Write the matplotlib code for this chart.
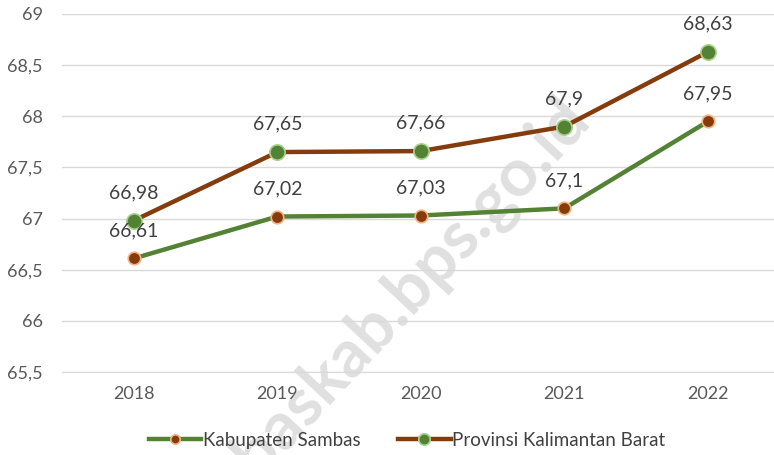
import matplotlib.pyplot as plt
import numpy as np

years = ['2018', '2019', '2020', '2021', '2022']
sambas = [66.61, 67.02, 67.03, 67.10, 67.95]
kalbar = [66.98, 67.65, 67.66, 67.90, 68.63]
sambas_labels = ['66,61', '67,02', '67,03', '67,1', '67,95']
kalbar_labels = ['66,98', '67,65', '67,66', '67,9', '68,63']
yticks = [65.5, 66, 66.5, 67, 67.5, 68, 68.5, 69]

plt.rcParams['font.family'] = ['Lato', 'DejaVu Sans']

green = '#548235'
brown = '#843c0c'
txt = '#404040'

fig = plt.figure(figsize=(7.74, 4.55), dpi=100)
ax = fig.add_axes([62 / 774, (455 - 372) / 455, 712 / 774, 358 / 455])
x = np.arange(len(years))

# watermark under everything else; anchored at the end of "id"
fig.text(592 / 774, 1 - 122 / 455, 'sambaskab.bps.go.id', rotation=47,
         rotation_mode='anchor', fontsize=48, fontweight='bold',
         color='#e0e0e0', ha='right', va='baseline', zorder=-1)

ax.plot(x, sambas, color=green, lw=3.2, marker='o', ms=9,
        mfc=brown, mec='#f4b183', mew=1.2, label='Kabupaten Sambas', zorder=3)
ax.plot(x, kalbar, color=brown, lw=3.2, marker='o', ms=11,
        mfc=green, mec='#a9d18e', mew=1.2, label='Provinsi Kalimantan Barat', zorder=3)

for xi, v, s in zip(x, sambas, sambas_labels):
    ax.annotate(s, (xi, v), xytext=(0, 20), textcoords='offset points',
                ha='center', va='center', fontsize=14, color=txt, zorder=4)
for xi, v, s in zip(x, kalbar, kalbar_labels):
    ax.annotate(s, (xi, v), xytext=(0, 20), textcoords='offset points',
                ha='center', va='center', fontsize=14, color=txt, zorder=4)

ax.set_xlim(-0.5, 4.46)
ax.set_ylim(65.5, 69)
ax.set_yticks(yticks)
ax.set_yticklabels([f'{t:g}'.replace('.', ',') for t in yticks])
ax.set_xticks(x)
ax.set_xticklabels(years)
ax.grid(axis='y', color='#d9d9d9', lw=1)
ax.set_axisbelow(True)
for sp in ['top', 'right', 'left']:
    ax.spines[sp].set_visible(False)
ax.spines['bottom'].set_color('#d9d9d9')
ax.tick_params(axis='both', length=0, labelsize=13, colors='#595959')
ax.tick_params(axis='y', pad=14)
ax.tick_params(axis='x', pad=10)
ax.patch.set_alpha(0)

fig.legend(loc='center', bbox_to_anchor=(0.526, 0.032), ncol=2, frameon=False,
           fontsize=13.5, labelcolor='#404040', handlelength=2.8,
           handletextpad=0.1, columnspacing=2.0, markerscale=0.75)

fig.savefig('out.png', dpi=100)
